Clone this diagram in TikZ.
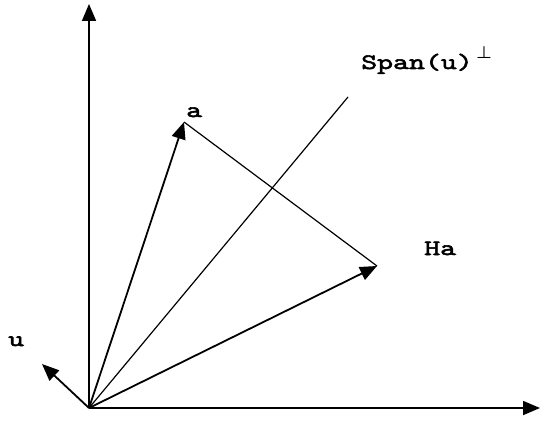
\documentclass[tikz,border=0pt]{standalone}
\usepackage{fontspec}
\newfontfamily\courfont{lmmono10-regular.otf}[FakeBold=2.5,FakeStretch=1.38]
\usetikzlibrary{arrows.meta}
\begin{document}
\begin{tikzpicture}[x=1pt,y=1pt,
  vec/.style={line width=1.8pt,-{Triangle[length=17pt,width=14pt]}},
  thin line/.style={line width=1.2pt},
  lbl/.style={font=\courfont\fontsize{22}{26}\selectfont,inner sep=0pt,anchor=base west}]
\useasboundingbox (0,0) rectangle (540,421);
\coordinate (O) at (89,13);
\coordinate (Y) at (89,417);
\coordinate (X) at (540,13);
\coordinate (A) at (184,299);
\coordinate (H) at (377,155);
\coordinate (S) at (348,324);
\coordinate (U) at (42,57);
\draw[vec] (O) -- (Y);
\draw[vec] (O) -- (X);
\draw[vec] (O) -- (A);
\draw[vec] (O) -- (H);
\draw[vec] (O) -- (U);
\draw[thin line] (A) -- (H);
\draw[thin line] (O) -- (S);
\node[lbl] (la) at (186,304) {a};
\node[lbl] (lh) at (424,166) {Ha};
\node[lbl] (ls) at (361,352) {Span(u)\,\raisebox{10pt}{\fontsize{17}{17}\selectfont\boldmath$\perp$}};
\node[lbl] (lu) at (8,75) {u};
\end{tikzpicture}
\end{document}
